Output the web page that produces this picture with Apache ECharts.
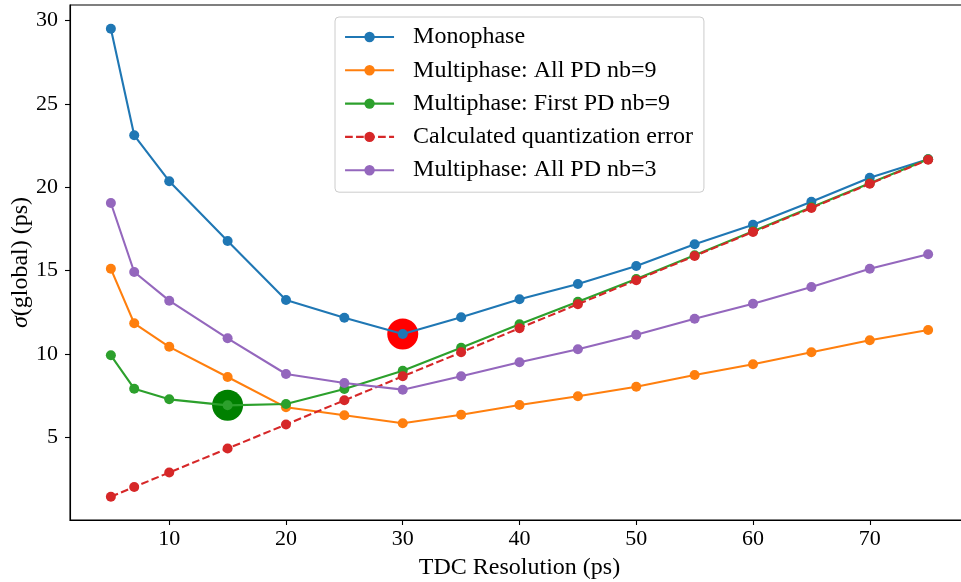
<!DOCTYPE html>
<html>
<head>
<meta charset="utf-8">
<script src="https://cdn.jsdelivr.net/npm/echarts@6/dist/echarts.min.js"></script>
<style>html,body{margin:0;padding:0;background:#fff}#c{width:961px;height:582px}</style>
</head>
<body>
<div id="c"></div>
<script>
const resolution = [5, 7, 10, 15, 20, 25, 30, 35, 40, 45, 50, 55, 60, 65, 70, 75];
const monophase  = [29.51, 23.12, 20.37, 16.78, 13.24, 12.17, 11.2, 12.2, 13.28, 14.2, 15.28, 16.58, 17.75, 19.13, 20.57, 21.69];
const allPd9     = [15.11, 11.84, 10.43, 8.62, 6.8, 6.32, 5.84, 6.36, 6.94, 7.46, 8.04, 8.74, 9.38, 10.1, 10.82, 11.44];
const firstPd9   = [9.92, 7.92, 7.28, 6.92, 7.0, 7.9, 9.0, 10.38, 11.78, 13.13, 14.5, 15.92, 17.36, 18.8, 20.24, 21.68];
const quantError = [1.44, 2.02, 2.89, 4.33, 5.77, 7.22, 8.66, 10.1, 11.55, 12.99, 14.43, 15.88, 17.32, 18.76, 20.21, 21.65];
const allPd3     = [19.06, 14.92, 13.2, 10.94, 8.8, 8.26, 7.86, 8.66, 9.5, 10.28, 11.16, 12.11, 13.01, 14.02, 15.11, 15.98];
const xTicks = [10, 20, 30, 40, 50, 60, 70];
const yTicks = [5, 10, 15, 20, 25, 30];
const seriesNames = ['Monophase', 'Multiphase: All PD nb=9', 'Multiphase: First PD nb=9', 'Calculated quantization error', 'Multiphase: All PD nb=3'];
const seriesValues = [monophase, allPd9, firstPd9, quantError, allPd3];
const colors = ['#1f77b4', '#ff7f0e', '#2ca02c', '#d62728', '#9467bd'];

const FONT = '"Liberation Serif", "DejaVu Serif", serif';
const pairs = v => resolution.map((x, i) => [x, v[i]]);
const minPoint = v => { let k = 0; v.forEach((y, i) => { if (y < v[k]) k = i; }); return [resolution[k], v[k]]; };

const chart = echarts.init(document.getElementById('c'), null, {renderer: 'canvas'});
const series = [
  {type: 'scatter', name: 'optMono', data: [minPoint(monophase)], symbolSize: 31, itemStyle: {color: '#ff0000', opacity: 1}, z: 1, silent: true},
  {type: 'scatter', name: 'optFirst', data: [minPoint(firstPd9)], symbolSize: 31, itemStyle: {color: '#008000', opacity: 1}, z: 1, silent: true}
];
seriesValues.forEach((v, i) => {
  series.push({
    type: 'line', name: seriesNames[i], data: pairs(v), symbol: 'circle', symbolSize: 10, showSymbol: true,
    itemStyle: {color: colors[i]},
    lineStyle: {color: colors[i], width: 2.1, type: i === 3 ? [7.7, 3.3] : 'solid'},
    z: 2 + i, emphasis: {disabled: true}
  });
});

chart.setOption({
  animation: false,
  backgroundColor: '#fff',
  grid: {left: 70, top: 5, width: 899, height: 515, containLabel: false, outerBoundsMode: 'none',
         show: true, borderColor: '#000', borderWidth: 1.1, backgroundColor: 'transparent'},
  legend: {
    data: seriesNames, orient: 'vertical', left: 335, top: 17,
    padding: [8, 11, 10, 9], itemGap: 9.3, itemWidth: 49, itemHeight: 13,
    backgroundColor: 'rgba(255,255,255,0.8)', borderColor: '#cccccc', borderWidth: 1, borderRadius: 4,
    lineStyle: {width: 2.1},
    textStyle: {fontFamily: FONT, fontSize: 24, color: '#000', padding: [0, 0, 0, 14], lineHeight: 24},
    selectedMode: false
  },
  xAxis: {
    type: 'value', min: 1.5, max: 78.5,
    name: 'TDC Resolution (ps)', nameLocation: 'middle', nameGap: 36, nameMoveOverlap: false,
    nameTextStyle: {fontFamily: FONT, fontSize: 24, color: '#000'},
    axisLine: {show: true, lineStyle: {color: '#000', width: 1.1}},
    axisTick: {show: true, length: 5, lineStyle: {color: '#000', width: 1.1}, customValues: xTicks},
    axisLabel: {fontFamily: FONT, fontSize: 22, color: '#000', margin: 8, customValues: xTicks},
    splitLine: {show: false}
  },
  yAxis: {
    type: 'value', min: 0.04, max: 30.94,
    name: '{i|σ}(global) (ps)', nameLocation: 'middle', nameGap: 37, nameRotate: 90, nameMoveOverlap: false,
    nameTextStyle: {fontFamily: FONT, fontSize: 24, color: '#000',
      rich: {i: {fontFamily: FONT, fontSize: 24, fontStyle: 'italic', color: '#000'}}},
    axisLine: {show: true, lineStyle: {color: '#000', width: 1.1}},
    axisTick: {show: true, length: 5, lineStyle: {color: '#000', width: 1.1}, customValues: yTicks},
    axisLabel: {fontFamily: FONT, fontSize: 22, color: '#000', margin: 12, customValues: yTicks},
    splitLine: {show: false}
  },
  series: series
});
</script>
</body>
</html>
